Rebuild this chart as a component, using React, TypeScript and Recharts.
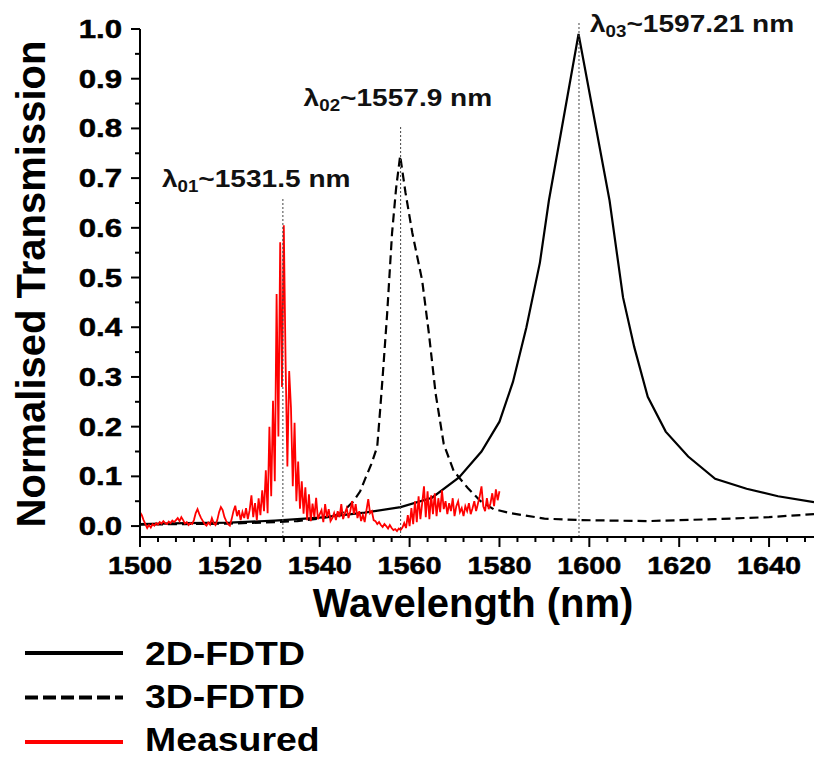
import { LineChart, Line, XAxis, YAxis, ReferenceLine } from "recharts";

const FONT = "'Liberation Sans', Arial, sans-serif";

// 2D-FDTD (solid)
const FDTD2D_WL = [1500, 1510, 1520, 1530, 1540, 1550, 1558, 1565, 1571, 1576, 1580, 1583, 1586, 1589, 1591, 1597.6, 1604.5, 1607.5, 1610, 1613, 1617, 1622, 1628, 1635, 1642, 1650];
const FDTD2D_T = [0.004, 0.006, 0.007, 0.011, 0.017, 0.027, 0.038, 0.057, 0.098, 0.15, 0.21, 0.29, 0.4, 0.53, 0.655, 0.99, 0.655, 0.46, 0.36, 0.26, 0.19, 0.14, 0.095, 0.075, 0.06, 0.048];

// 3D-FDTD (dashed)
const FDTD3D_WL = [1500, 1510, 1520, 1530, 1535, 1540, 1543, 1545, 1547.5, 1549, 1550.2, 1551.5, 1552.8, 1553.5, 1554, 1555, 1556.1, 1557, 1557.9, 1559.1, 1560.6, 1562.8, 1564.3, 1565.8, 1567.6, 1569.8, 1572.9, 1575.8, 1578.7, 1582.5, 1590, 1598, 1613, 1628, 1640, 1650];
const FDTD3D_T = [0.003, 0.004, 0.005, 0.008, 0.01, 0.015, 0.02, 0.027, 0.05, 0.07, 0.097, 0.125, 0.16, 0.24, 0.3, 0.427, 0.59, 0.68, 0.745, 0.67, 0.59, 0.494, 0.387, 0.266, 0.165, 0.111, 0.077, 0.05, 0.034, 0.026, 0.015, 0.012, 0.01, 0.014, 0.018, 0.024];

// Measured, sampled every 0.4 nm from 1500 nm
const MEASURED_START = 1500;
const MEASURED_STEP = 0.4;
const MEASURED_T = [
  0.028, 0.022, 0.012, 0.004, -0.004, 0.002, -0.003, 0.004, 0.001, 0.006,
  0.003, 0.008, 0.005, 0.01, 0.006, 0.004, 0.009, 0.006, 0.011, 0.008,
  0.012, 0.016, 0.01, 0.018, 0.012, 0.005, 0.008, 0.002, 0.006, 0.004,
  0.012, 0.026, 0.034, 0.024, 0.016, 0.01, 0.004, 0.001, 0.007, 0.003,
  0.016, 0.006, 0.002, 0.012, 0.028, 0.038, 0.032, 0.018, 0.01, 0.004,
  0.001, 0.014, 0.03, 0.041, 0.02, 0.032, 0.012, 0.028, 0.016, 0.036,
  0.014, 0.032, 0.062, 0.018, 0.046, 0.012, 0.056, 0.022, 0.072, 0.03,
  0.112, 0.026, 0.2, 0.06, 0.252, 0.09, 0.467, 0.18, 0.571, 0.28,
  0.605, 0.33, 0.12, 0.312, 0.238, 0.08, 0.208, 0.05, 0.13, 0.035,
  0.09, 0.025, 0.078, 0.012, 0.064, 0.01, 0.045, 0.018, 0.057, 0.014,
  0.024, 0.032, 0.008, 0.044, 0.018, 0.034, 0.01, 0.016, 0.026, 0.012,
  0.03, 0.018, 0.044, 0.014, 0.026, 0.036, 0.016, 0.03, 0.05, 0.024,
  0.044, 0.016, 0.03, 0.01, 0.022, 0.008, 0.032, 0.054, 0.026, 0.03,
  0.012, 0.01, 0.004, 0.008, 0.002, -0.002, 0.004, 0.0, -0.005, 0.002,
  -0.004, -0.008, -0.006, -0.01, -0.005, -0.008, -0.003, 0.006, -0.004, 0.022,
  0.0, 0.036, 0.004, 0.05, 0.008, 0.06, 0.014, 0.046, 0.08, 0.018,
  0.07, 0.014, 0.062, 0.024, 0.066, 0.02, 0.056, 0.028, 0.072, 0.034,
  0.05, 0.024, 0.046, 0.03, 0.056, 0.02, 0.04, 0.05, 0.028, 0.036,
  0.02, 0.04, 0.03, 0.046, 0.024, 0.036, 0.05, 0.03, 0.045, 0.06,
  0.08, 0.04, 0.03, 0.056, 0.034, 0.046, 0.066, 0.04, 0.074, 0.052,
  0.07,
];

// resonance markers
const PEAK_ID = ["01", "02", "03"];
const PEAK_LABEL = ["1531.5", "1557.9", "1597.21"];
const PEAK_WL = [1531.8, 1558.0, 1597.7];
const PEAK_TOP = [0.661, 0.806, 1.014];
const PEAK_LABEL_OFFSET = [[-121, -11], [-97, -19], [11, 10]];

const X_MAJOR = [1500, 1520, 1540, 1560, 1580, 1600, 1620, 1640];
const X_TICKS = [1500, 1504, 1508, 1512, 1516, 1520, 1524, 1528, 1532, 1536, 1540, 1544, 1548, 1552, 1556, 1560, 1564, 1568, 1572, 1576, 1580, 1584, 1588, 1592, 1596, 1600, 1604, 1608, 1612, 1616, 1620, 1624, 1628, 1632, 1636, 1640, 1644, 1648];
const Y_MAJOR = [0, 0.1, 0.2, 0.3, 0.4, 0.5, 0.6, 0.7, 0.8, 0.9, 1.0];
const Y_TICKS = [0, 0.05, 0.1, 0.15, 0.2, 0.25, 0.3, 0.35, 0.4, 0.45, 0.5, 0.55, 0.6, 0.65, 0.7, 0.75, 0.8, 0.85, 0.9, 0.95, 1.0];
const Y_MIN = -0.022;

const fdtd2d = FDTD2D_WL.map((wl, i) => ({ wl, t: FDTD2D_T[i] }));
const fdtd3d = FDTD3D_WL.map((wl, i) => ({ wl, t: FDTD3D_T[i] }));
const measured = MEASURED_T.map((t, i) => ({ wl: +(MEASURED_START + i * MEASURED_STEP).toFixed(2), t }));

const SERIES = [
  { name: "2D-FDTD", data: fdtd2d, color: "#000000", width: 2.2, dash: undefined, legendDash: undefined },
  { name: "3D-FDTD", data: fdtd3d, color: "#000000", width: 2.2, dash: "9 5", legendDash: "13 5" },
  { name: "Measured", data: measured, color: "#ff0000", width: 1.8, dash: undefined, legendDash: undefined },
];

function XTick(props: any) {
  const { x, y, payload } = props;
  const major = X_MAJOR.includes(payload.value);
  return (
    <g>
      <line x1={x} x2={x} y1={y} y2={y + (major ? 10 : 5)} stroke="#000" strokeWidth={2} />
      {major && (
        <text transform={`translate(${x},${y + 37}) scale(1.2,1)`} textAnchor="middle"
          fontSize={24} fontWeight="bold" fontFamily={FONT} fill="#000" stroke="#000" strokeWidth={0.5}>
          {payload.value}
        </text>
      )}
    </g>
  );
}

function YTick(props: any) {
  const { x, y, payload } = props;
  const major = Y_MAJOR.includes(payload.value);
  return (
    <g>
      <line x1={x} x2={x - (major ? 9 : 5)} y1={y} y2={y} stroke="#000" strokeWidth={2} />
      {major && (
        <text transform={`translate(${x - 18},${y + 9}) scale(1.2,1)`} textAnchor="end"
          fontSize={26} fontWeight="bold" fontFamily={FONT} fill="#000" stroke="#000" strokeWidth={0.5}>
          {payload.value.toFixed(1)}
        </text>
      )}
    </g>
  );
}

function peakLabel(idx: number) {
  return (props: any) => {
    const { x, y } = props.viewBox;
    const [dx, dy] = PEAK_LABEL_OFFSET[idx];
    return (
      <text transform={`translate(${x + dx},${y + dy}) scale(1.17,1)`} fontSize={24}
        fontWeight="bold" fontFamily={FONT} fill="#111">
        λ<tspan fontSize={16} dy={5}>{PEAK_ID[idx]}</tspan>
        <tspan dy={-5}>~{PEAK_LABEL[idx]} nm</tspan>
      </text>
    );
  };
}

export default function App() {
  return (
    <div style={{ position: "absolute", left: 0, top: 0, width: 814, height: 758, background: "#fff" }}>
      <LineChart width={814} height={758} margin={{ top: 29, right: 0, left: 0, bottom: 161 }}>
        <XAxis dataKey="wl" type="number" domain={[1500, 1650]} allowDataOverflow ticks={X_TICKS}
          interval={0} tickSize={0} tickMargin={0} tickLine={false} tick={<XTick />} height={60}
          axisLine={{ stroke: "#000", strokeWidth: 2 }} />
        <YAxis type="number" domain={[Y_MIN, 1]} allowDataOverflow ticks={Y_TICKS} interval={0}
          tickSize={0} tickMargin={0} tickLine={false} tick={<YTick />} width={140}
          axisLine={{ stroke: "#000", strokeWidth: 2 }} />
        {SERIES.map((s) => (
          <Line key={s.name} data={s.data} dataKey="t" name={s.name} type="linear" dot={false}
            stroke={s.color} strokeWidth={s.width} strokeDasharray={s.dash}
            isAnimationActive={false} />
        ))}
        {PEAK_WL.map((wl, i) => (
          <ReferenceLine key={wl} ifOverflow="visible"
            segment={[{ x: wl, y: Y_MIN }, { x: wl, y: PEAK_TOP[i] }]}
            stroke="#444" strokeWidth={1} strokeDasharray="2 2" label={peakLabel(i)} />
        ))}
      </LineChart>
      <svg width={814} height={758} style={{ position: "absolute", left: 0, top: 0, pointerEvents: "none" }}>
        <text transform="translate(45,284) rotate(-90)" textAnchor="middle" fontSize={40}
          fontWeight="bold" fontFamily={FONT} fill="#000">Normalised Transmission</text>
        <text x={473} y={617} textAnchor="middle" fontSize={40} fontWeight="bold"
          fontFamily={FONT} fill="#000">Wavelength (nm)</text>
        {SERIES.map((s, i) => (
          <g key={s.name}>
            <line x1={25} x2={123} y1={653 + i * 44.5} y2={653 + i * 44.5} stroke={s.color}
              strokeWidth={4} strokeDasharray={s.legendDash} />
            <text transform={`translate(145,${665 + i * 43}) scale(1.1,1)`} fontSize={34}
              fontWeight="bold" fontFamily={FONT} fill="#000">{s.name}</text>
          </g>
        ))}
      </svg>
    </div>
  );
}
